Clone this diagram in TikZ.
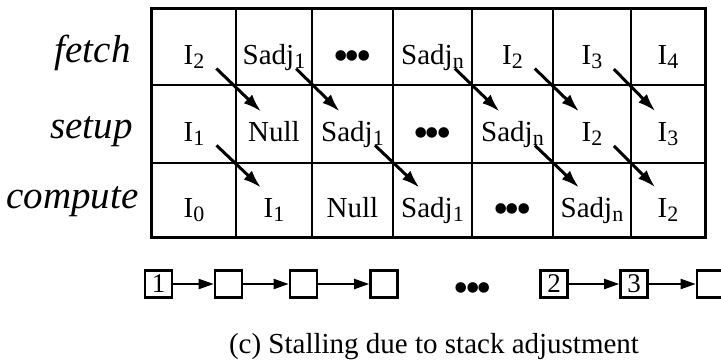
\documentclass[tikz,border=0pt]{standalone}
\usepackage{fontspec}
\setmainfont{Liberation Serif}
\usetikzlibrary{arrows.meta}

% lowered subscript, as in I_2 or Sadj_n
\newcommand\ix[1]{\raisebox{-2pt}{\fontsize{11}{11}\selectfont #1}}
% three heavy dots
\newcommand\dotsrow{\raisebox{-3.4pt}{\fontsize{22}{22}\selectfont
    \textbullet\kern-1.9pt\textbullet\kern-1.9pt\textbullet}}

\begin{document}
\begin{tikzpicture}[x=0.5pt, y=-0.5pt,
    cell/.style={draw, line width=0.8pt, inner sep=0pt},
    entry/.style={anchor=base, inner sep=0pt, font=\fontsize{14.5}{17}\selectfont},
    stage/.style={anchor=base east, inner sep=0pt, font=\fontsize{19.5}{23}\selectfont\itshape},
    pass/.style={line width=1.5pt, -{Latex[length=9pt,width=6pt]},
                 shorten <=15.5pt, shorten >=9pt},
    slot/.style={draw, line width=1.3pt, minimum size=13.5pt, inner sep=0pt,
                 font=\fontsize{13.5}{13.5}\selectfont},
    link/.style={line width=1pt, -{Triangle[length=7.5pt,width=5pt]}}]
\useasboundingbox (0,0) rectangle (721,360);

% pipeline table
\foreach \r/\y/\h in {f/47/76, s/124/78, c/200/74}
    \foreach \i/\x/\w in {1/194/84, 2/274/76, 3/352.5/81, 4/432.5/79,
                          5/512.5/81, 6/592/78, 7/668/74}
        \node[cell, minimum width=\w*0.5pt, minimum height=\h*0.5pt] (\r\i) at (\x,\y) {};
\draw[line width=1.6pt] (f1.north west) rectangle (c7.south east);

\foreach \cl/\lbl in {f1/I\ix2, f2/Sadj\ix1, f3/\dotsrow, f4/Sadj\ix{n}, f5/I\ix2, f6/I\ix3, f7/I\ix4,
                      s1/I\ix1, s2/Null, s3/Sadj\ix1, s4/\dotsrow, s5/Sadj\ix{n}, s6/I\ix2, s7/I\ix3,
                      c1/I\ix0, c2/I\ix1, c3/Null, c4/Sadj\ix1, c5/\dotsrow, c6/Sadj\ix{n}, c7/I\ix2}
    \node[entry] (\cl t) at ([yshift=-8.5pt]\cl.center) {\lbl};

\foreach \r/\s/\x/\y in {f/fetch/131/62, s/setup/133/138, c/compute/139/208}
    \node[stage] (\r lbl) at (\x,\y) {\s};

% instructions moving down a stage
\foreach \a/\b in {f1/s2, f2/s3, f4/s5, f5/s6, f6/s7, s1/c2, s3/c4, s5/c6, s6/c7}
    \draw[pass] (\a.center) -- (\b.center);

% stack chain
\foreach \k/\x/\t in {1/158.5/1, 2/228.5/, 3/303.5/, 4/384/, 5/554/2, 6/634/3, 7/710.5/}
    \node[slot] (b\k) at (\x,284) {\t};
\node[entry] (gap) at (473,295.5) {\dotsrow};
\foreach \a/\b in {b1/b2, b2/b3, b3/b4, b5/b6, b6/b7}
    \draw[link] (\a) -- (\b);

\node[entry] (caption) at (434,353) {(c) Stalling due to stack adjustment};
\end{tikzpicture}
\end{document}
